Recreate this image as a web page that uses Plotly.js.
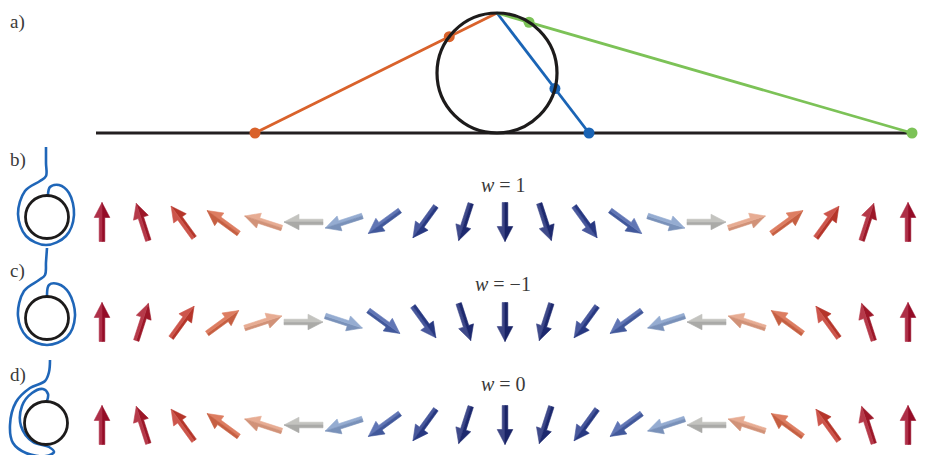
<!DOCTYPE html>
<html><head><meta charset="utf-8">
<script src="https://cdn.plot.ly/plotly-3.0.1.min.js"></script>
<style>html,body{margin:0;padding:0;background:#fff}#chart{width:934px;height:455px}</style>
</head><body><div id="chart"></div>
<script>
// ---- Panel a: stereographic projection, offsets of projected points along the line ----
const projOffsets = [-242, 92, 415];
const projColors = ['#d9622b', '#1a64b5', '#7cc257'];

// ---- Panels b-d: spin directions (degrees, counter-clockwise from "up") ----
const rowLabels = ['b)', 'c)', 'd)'];
const windingLabels = ['<i>w</i> = 1', '<i>w</i> = \u22121', '<i>w</i> = 0'];
const anglesB = [0,18,36,54,72,90,108,126,144,162,180,198,216,234,252,270,288,306,324,342,360];
const anglesC = [0,-18,-36,-54,-72,-90,-108,-126,-144,-162,-180,-198,-216,-234,-252,-270,-288,-306,-324,-342,-360];
const anglesD = [0,18,36,54,72,90,108,126,144,162,180,162,144,126,108,90,72,54,36,18,0];
const rowAngles = [anglesB, anglesC, anglesD];

// colour scale by vertical spin component (cos of angle)
const colorStops = [[-1,'#1c2770'],[-0.8,'#2b3e8d'],[-0.55,'#4c66ae'],[-0.3,'#86a0ca'],[0,'#b9b9b5'],[0.3,'#e3a084'],[0.55,'#da6f4c'],[0.8,'#c63c2e'],[1,'#a10d2a']];

// ---- layout constants ----
const W = 934, H = 455;
const circ = {cx: 497, cy: 73, r: 60};
const lineY = 133, lineX0 = 96, lineX1 = 912;
const rowY = [222, 322, 425];
const arrowX0 = 102, arrowDX = 40.3;
const iconCirc = [{cx:47, cy:217, r:21.5},{cx:47, cy:318, r:21.5},{cx:46, cy:423, r:21.5}];
const strings = [
  [[46,147],[46,163],[46,176],[40,181],[25,191],[18,214],[26,236],[46,245],[66,236],[74,215],[69,193],[59,185],[50,187],[48,195]],
  [[47,248],[46,262],[45,275],[39,280],[24,291],[18,316],[27,337],[47,345],[67,337],[75,316],[69,293],[58,284],[49,285],[47,296]],
  [[50,360],[49,372],[45,381],[30,388],[16,402],[10,425],[13,443],[26,453],[46,456],[54,452],[49,447],[33,442],[21,426],[22,406],[32,393],[43,389],[48,394],[47,401]]
];

function hex2rgb(h){return [parseInt(h.slice(1,3),16),parseInt(h.slice(3,5),16),parseInt(h.slice(5,7),16)];}
function rgbStr(c){return 'rgb('+c.map(v=>Math.round(Math.max(0,Math.min(255,v)))).join(',')+')';}
function colorFor(c){
  for(let i=0;i<colorStops.length-1;i++){
    const [a,ca]=colorStops[i],[b,cb]=colorStops[i+1];
    if(c>=a-1e-9 && c<=b+1e-9){
      const t=(c-a)/(b-a); const A=hex2rgb(ca),B=hex2rgb(cb);
      return A.map((v,k)=>v+(B[k]-v)*t);
    }
  }
  return hex2rgb(colorStops[colorStops.length-1][1]);
}
function mix(c, target, t){return c.map((v,k)=>v+(target[k]-v)*t);}

const traces = [];
const shapes = [];
const annotations = [];
const baseFont = {family:'Liberation Serif, DejaVu Serif, serif', size:19, color:'#3a3a3a'};

// Panel a
traces.push({x:[lineX0,lineX1], y:[lineY,lineY], mode:'lines', line:{color:'#231f20', width:3.2}, hoverinfo:'skip'});
shapes.push({type:'circle', xref:'x', yref:'y', x0:circ.cx-circ.r, x1:circ.cx+circ.r, y0:circ.cy-circ.r, y1:circ.cy+circ.r, line:{color:'#1d1b1b', width:3.2}});
const N = [circ.cx, circ.cy - circ.r];
projOffsets.forEach((u,i)=>{
  const P = [circ.cx+u, lineY];
  const D = [P[0]-N[0], P[1]-N[1]];
  const t = (2*circ.r*D[1]) / (D[0]*D[0]+D[1]*D[1]);
  const Q = [N[0]+t*D[0], N[1]+t*D[1]];
  traces.push({x:[N[0],P[0]], y:[N[1],P[1]], mode:'lines', line:{color:projColors[i], width:2.8}, hoverinfo:'skip'});
  traces.push({x:[Q[0],P[0]], y:[Q[1],P[1]], mode:'markers', marker:{color:projColors[i], size:11}, hoverinfo:'skip'});
});
annotations.push({x:8, y:22, text:'a)', xanchor:'left', yanchor:'middle'});

// Arrows
const L = 39, sw = 2.8, hw = 7.8, hl = 15;
rowAngles.forEach((angles, r)=>{
  angles.forEach((deg, i)=>{
    const th = deg*Math.PI/180;
    const cx = arrowX0 + i*arrowDX, cy = rowY[r];
    const d = [-Math.sin(th), -Math.cos(th)];
    const p = [Math.cos(th), -Math.sin(th)];
    const base = colorFor(Math.cos(th));
    const lit = (p[0]*-0.7 + p[1]*-0.7) > 0 ? 1 : -1;
    [1,-1].forEach(s=>{
      const loc = [[0,-L/2],[s*sw,-L/2],[s*sw,L/2-hl],[s*hw,L/2-hl],[0,L/2]];
      const xs = loc.map(q=>cx + q[0]*p[0] + q[1]*d[0]);
      const ys = loc.map(q=>cy + q[0]*p[1] + q[1]*d[1]);
      xs.push(xs[0]); ys.push(ys[0]);
      const col = s===lit ? mix(base,[255,255,255],0.14) : mix(base,[0,0,0],0.08);
      traces.push({x:xs, y:ys, mode:'lines', fill:'toself', fillcolor:rgbStr(col), line:{color:rgbStr(col), width:0.6}, hoverinfo:'skip'});
    });
  });
  // icon
  const ic = iconCirc[r];
  shapes.push({type:'circle', xref:'x', yref:'y', x0:ic.cx-ic.r, x1:ic.cx+ic.r, y0:ic.cy-ic.r, y1:ic.cy+ic.r, line:{color:'#1d1b1b', width:2.8}});
  traces.push({x:strings[r].map(q=>q[0]), y:strings[r].map(q=>q[1]), mode:'lines', line:{color:'#1f66b8', width:2.6, shape:'spline', smoothing:1}, hoverinfo:'skip'});
  annotations.push({x:8, y:[160,271,375][r], text:rowLabels[r], xanchor:'left', yanchor:'middle'});
  annotations.push({x:503, y:[185,284,384][r], text:windingLabels[r], xanchor:'center', yanchor:'middle', font:{size:20}});
});

const layout = {
  width:W, height:H, margin:{l:0,r:0,t:0,b:0}, showlegend:false,
  paper_bgcolor:'#fff', plot_bgcolor:'#fff',
  xaxis:{range:[0,W], visible:false, fixedrange:true},
  yaxis:{range:[H,0], visible:false, fixedrange:true},
  shapes,
  annotations: annotations.map(a=>Object.assign({xref:'x', yref:'y', showarrow:false}, a, {font:Object.assign({}, baseFont, a.font||{})}))
};
Plotly.newPlot('chart', traces, layout, {staticPlot:true, displayModeBar:false});
</script></body></html>
